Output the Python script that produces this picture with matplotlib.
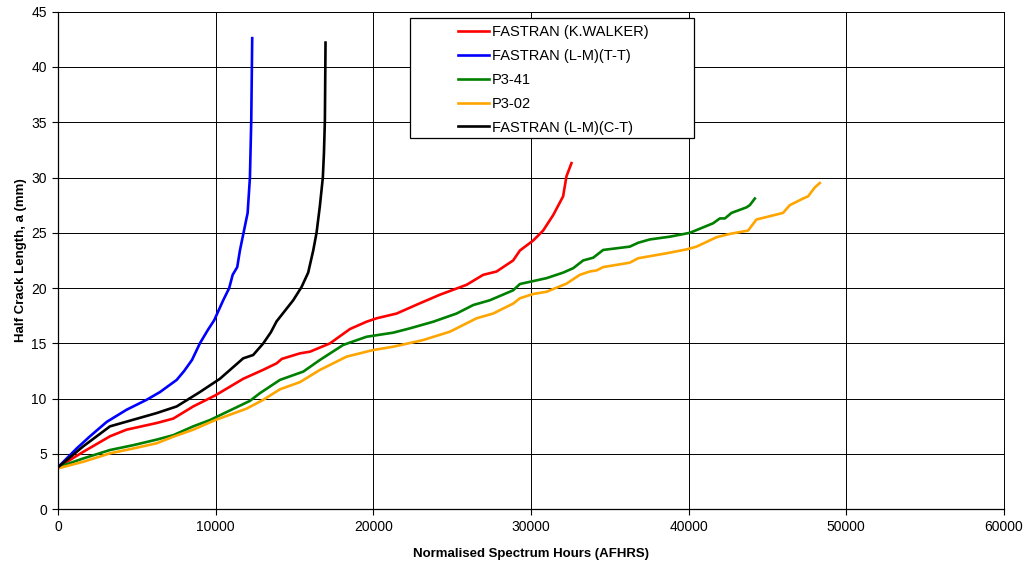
"""
Crack growth curves: half crack length against normalised spectrum hours.
"""

import matplotlib.pyplot as plt
from matplotlib.patches import Rectangle

plt.rcParams["font.family"] = ["Liberation Sans", "DejaVu Sans"]

# FASTRAN (K.WALKER)
walker_hours = [0, 1610, 3300, 4350, 6260, 7310, 8580, 9980, 11750, 13000, 13870,
                14200, 15350, 15980, 17250, 18520, 19570, 20210, 21480, 22750,
                24220, 25920, 26970, 27820, 28870, 29300, 30140, 30770, 31410,
                32040, 32250, 32570]
walker_crack = [3.8, 5.2, 6.6, 7.2, 7.8, 8.2, 9.3, 10.3, 11.8, 12.6, 13.2,
                13.6, 14.1, 14.25, 15.0, 16.3, 16.96, 17.27, 17.7, 18.5,
                19.4, 20.3, 21.2, 21.5, 22.5, 23.4, 24.3, 25.2, 26.6,
                28.3, 30.1, 31.3]

# FASTRAN (L-M)(T-T)
tt_hours = [0, 1185, 2030, 3090, 4350, 5620, 6470, 7530, 8000, 8500, 9000, 9500,
            9910, 10480, 10860, 11080, 11370, 11540, 11900, 12030, 12175, 12260,
            12320]
tt_crack = [3.8, 5.5, 6.6, 7.9, 9.0, 9.9, 10.6, 11.7, 12.5, 13.5, 15.0, 16.2,
            17.1, 18.9, 20.0, 21.2, 21.9, 23.4, 25.9, 26.8, 30.0, 35.2,
            42.6]

# P3-41
p341_hours = [0, 1610, 3300, 4780, 6260, 7310, 8580, 9640, 12170, 12810, 14080,
              15560, 16610, 18090, 19570, 21260, 22320, 23800, 25280, 26340,
              27390, 28870, 29300, 30990, 32040, 32680, 33310, 33950, 34580,
              36270, 36800, 37540, 38810, 40080, 41550, 41980, 42300, 42720,
              43670, 43880, 44200]
p341_crack = [3.8, 4.6, 5.36, 5.8, 6.3, 6.7, 7.5, 8.07, 9.8, 10.5, 11.7,
              12.45, 13.5, 14.86, 15.6, 15.97, 16.36, 16.96, 17.7, 18.47,
              18.9, 19.8, 20.37, 20.9, 21.4, 21.8, 22.5, 22.75, 23.45,
              23.75, 24.1, 24.4, 24.65, 25.0, 25.86, 26.3, 26.3, 26.8,
              27.3, 27.5, 28.1]

# P3-02
p302_hours = [0, 1610, 3300, 4780, 6260, 7310, 8580, 9980, 11960, 13020, 14080,
              15350, 16610, 18300, 19990, 21260, 23160, 24860, 26550, 27600,
              28870, 29300, 30140, 30990, 32250, 33100, 33730, 34160, 34580,
              36270, 36800, 38600, 39870, 40500, 41770, 42610, 43770, 44300,
              45990, 46420, 47260, 47580, 48000, 48320]
p302_crack = [3.7, 4.3, 5.06, 5.5, 5.97, 6.56, 7.2, 8.07, 9.1, 9.9, 10.85,
              11.5, 12.6, 13.8, 14.4, 14.7, 15.3, 16.06, 17.27, 17.7,
              18.6, 19.08, 19.47, 19.67, 20.4, 21.2, 21.5, 21.6, 21.9,
              22.3, 22.7, 23.15, 23.5, 23.75, 24.6, 24.9, 25.2, 26.2,
              26.8, 27.5, 28.1, 28.3, 29.1, 29.5]

# FASTRAN (L-M)(C-T)
ct_hours = [0, 1610, 3300, 4780, 6260, 7530, 9000, 10270, 11750, 12380, 13020,
            13500, 13870, 14920, 15450, 15870, 16190, 16400, 16610, 16800,
            16870, 16930, 16970]
ct_crack = [3.8, 5.7, 7.5, 8.1, 8.7, 9.3, 10.6, 11.8, 13.65, 13.95, 15.0,
            16.0, 17.0, 18.9, 20.1, 21.4, 23.4, 25.0, 27.4, 30.0,
            32.2, 35.2, 42.2]

series = [
    ("FASTRAN (K.WALKER)", walker_hours, walker_crack, "#ff0000"),
    ("FASTRAN (L-M)(T-T)", tt_hours, tt_crack, "#0000ff"),
    ("P3-41", p341_hours, p341_crack, "#008000"),
    ("P3-02", p302_hours, p302_crack, "#ffa500"),
    ("FASTRAN (L-M)(C-T)", ct_hours, ct_crack, "#000000"),
]

x_ticks = [0, 10000, 20000, 30000, 40000, 50000, 60000]
y_ticks = [0, 5, 10, 15, 20, 25, 30, 35, 40, 45]

fig = plt.figure(figsize=(10.26, 5.64), dpi=100)
ax = fig.add_axes([0.0565, 0.097, 0.922, 0.8824])

for label, hours, crack, colour in series:
    ax.plot(hours, crack, color=colour, linewidth=1.9, label=label)

ax.set_xlim(0, 60000)
ax.set_ylim(0, 45)
ax.set_xticks(x_ticks)
ax.set_yticks(y_ticks)
ax.tick_params(axis="both", labelsize=10, direction="out", length=4,
               width=0.8, color="black", pad=4)
ax.grid(True, color="black", linewidth=0.7)
ax.set_axisbelow(True)
for side in ["left", "bottom"]:
    ax.spines[side].set_linewidth(0.9)
for side in ["top", "right"]:
    ax.spines[side].set_linewidth(0.7)

ax.set_xlabel("Normalised Spectrum Hours (AFHRS)", fontsize=9.5,
              fontweight="bold", labelpad=10)
ax.set_ylabel("Half Crack Length, a (mm)", fontsize=9.5, fontweight="bold",
              labelpad=3)

# legend box drawn separately so it can be wider than its entries
ax.add_patch(Rectangle((0.3996, 0.7553), 0.2768, 0.2128,
                       transform=fig.transFigure, facecolor="white",
                       edgecolor="black", linewidth=0.9, clip_on=False,
                       zorder=4))
ax.legend(
    loc="upper left",
    bbox_to_anchor=(0.4464, 0.9559),
    bbox_transform=fig.transFigure,
    fontsize=10.5,
    frameon=False,
    handlelength=2.1,
    handletextpad=0.2,
    labelspacing=0.68,
    borderpad=0,
    borderaxespad=0,
)

fig.savefig("out.png", dpi=100)
